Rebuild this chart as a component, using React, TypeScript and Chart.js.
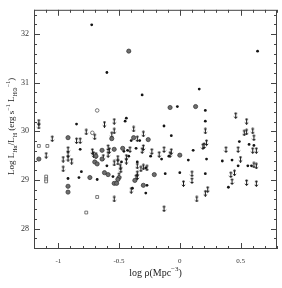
import React, { useEffect, useRef } from 'react';
import { Chart, registerables } from 'chart.js';

Chart.register(...registerables);

// Axis settings
const X_MIN = -1.2;
const X_MAX = 0.8;
const Y_MIN = 27.58;
const Y_MAX = 32.5;
const X_TICKS = [-1, -0.5, 0, 0.5];
const Y_TICKS = [28, 29, 30, 31, 32];
const X_MINOR = 0.1;
const Y_MINOR = 0.2;

// Small filled dots
const dots: [number, number][] = [
  [-0.725, 32.19], [-0.6, 31.21], [0.64, 31.65], [0.16, 30.87], [-0.31, 30.75],
  [-0.02, 30.51], [0.21, 30.43], [0.21, 30.21], [-0.13, 30.11], [-0.07, 29.91],
  [0.49, 29.79], [0.57, 29.73], [0.61, 29.71], [-0.85, 30.15], [-0.82, 29.63],
  [-0.81, 29.17], [-0.92, 29.03], [-0.83, 29.05], [-0.68, 29.01], [-0.44, 30.27],
  [-0.45, 30.21], [-0.4, 29.81], [-0.33, 29.81], [-0.46, 29.59], [-0.43, 29.61],
  [-0.36, 29.65], [-0.24, 29.49], [-0.42, 29.49], [-0.48, 29.37], [-0.35, 29.37],
  [-0.28, 29.25], [-0.27, 28.89], [-0.28, 28.73], [-0.6, 29.29], [-0.55, 29.07],
  [-0.39, 28.83], [-0.15, 29.43], [-0.09, 29.49], [0.07, 29.41], [0.11, 29.61],
  [0.22, 29.43], [-0.12, 29.13], [0.0, 29.15], [0.21, 29.13], [0.35, 29.39],
  [0.43, 29.41], [0.48, 29.29], [0.56, 29.29], [0.59, 29.29], [0.4, 28.85],
];

// Larger grey circles
const circles: [number, number][] = [
  [-0.42, 31.65], [-0.08, 30.49], [0.13, 30.51], [-0.26, 29.83], [-0.92, 29.87],
  [-1.16, 29.43], [-0.7, 29.37], [-0.74, 29.05], [-0.92, 28.87], [-0.92, 28.75],
  [-0.56, 29.85], [-0.38, 29.87], [-0.64, 29.61], [-0.54, 29.63], [-0.47, 29.65],
  [-0.69, 29.49], [-0.64, 29.43], [-0.68, 29.33], [-0.21, 29.11], [-0.62, 29.15],
  [-0.59, 29.11], [-0.5, 29.05], [-0.37, 28.99], [-0.51, 29.01], [-0.54, 28.93],
  [-0.52, 28.93], [-0.3, 28.89], [0.0, 29.51],
];

// Small open circles
const openCircles: [number, number][] = [
  [-0.68, 30.43], [-0.72, 29.97],
];

// Open squares
const squares: [number, number][] = [
  [-1.16, 29.7], [-1.09, 29.7], [-1.1, 29.07], [-1.1, 29.01], [-1.1, 28.97],
  [-0.77, 28.33], [-0.68, 28.65],
];

// Upper limits (arrows)
const limits: [number, number][] = [
  [0.46, 30.33], [0.55, 30.21], [0.21, 30.01], [0.53, 29.97], [0.55, 29.99],
  [0.6, 30.01], [-0.3, 29.95], [0.61, 29.87], [0.22, 29.77], [-1.16, 30.19],
  [-1.16, 30.11], [-1.05, 29.85], [-0.85, 29.81], [-0.82, 29.81], [-0.77, 29.99],
  [-0.7, 29.89], [-0.92, 29.63], [-0.92, 29.53], [-1.1, 29.51], [-0.72, 29.59],
  [-0.71, 29.53], [-0.69, 29.51], [-0.92, 29.45], [-0.96, 29.43], [-0.89, 29.39],
  [-0.96, 29.23], [-0.62, 30.15], [-0.54, 30.21], [-0.54, 30.01], [-0.56, 29.93],
  [-0.38, 30.05], [-0.35, 29.85], [-0.59, 29.67], [-0.58, 29.61], [-0.41, 29.63],
  [-0.3, 29.67], [-0.31, 29.61], [-0.23, 29.59], [-0.63, 29.47], [-0.59, 29.53],
  [-0.51, 29.45], [-0.51, 29.37], [-0.44, 29.47], [-0.44, 29.39], [-0.54, 29.35],
  [-0.49, 29.27], [-0.485, 29.21], [-0.35, 29.29], [-0.3, 29.27], [-0.27, 29.25],
  [-0.35, 29.13], [-0.35, 29.07], [-0.5, 29.09], [-0.36, 29.05], [-0.4, 28.79],
  [-0.54, 28.61], [-0.13, 29.63], [-0.17, 29.53], [-0.07, 29.59], [-0.08, 29.53],
  [0.19, 29.69], [0.2, 29.71], [0.1, 29.13], [0.1, 28.99], [0.03, 28.93],
  [0.23, 28.81], [0.21, 28.73], [0.14, 28.61], [-0.13, 28.41], [-0.32, 29.23],
  [0.38, 29.63], [0.48, 29.63], [0.6, 29.61], [0.63, 29.61], [0.5, 29.43],
  [0.61, 29.31], [0.63, 29.29], [0.45, 29.15], [0.42, 29.11], [0.43, 28.97],
  [0.55, 28.95], [0.63, 28.93],
];

type Seg = [string, 'n' | 'sub' | 'sup'];
const X_TITLE: Seg[] = [['log ', 'n'], ['ρ', 'n'], ['(Mpc', 'n'], ['−3', 'sup'], [')', 'n']];
const Y_TITLE: Seg[] = [
  ['Log L', 'n'], ['Hα', 'sub'], ['/L', 'n'], ['H', 'sub'], [' (erg s', 'n'], ['−1', 'sup'],
  [' L', 'n'], ['H⊙', 'sub'], ['−1', 'sup'], [')', 'n'],
];

const FAMILY = '"Liberation Serif", "DejaVu Serif", serif';

function drawSegs(ctx: CanvasRenderingContext2D, segs: Seg[], size: number) {
  const small = Math.round(size * 0.7);
  const fontFor = (k: string) => `${k === 'n' ? size : small}px ${FAMILY}`;
  let total = 0;
  const widths: number[] = [];
  segs.forEach(([t, k]) => {
    ctx.font = fontFor(k);
    const w = ctx.measureText(t).width;
    widths.push(w);
    total += w;
  });
  let x = -total / 2;
  ctx.textBaseline = 'alphabetic';
  ctx.textAlign = 'left';
  segs.forEach(([t, k], i) => {
    ctx.font = fontFor(k);
    const dy = k === 'sub' ? size * 0.3 : k === 'sup' ? -size * 0.42 : 0;
    ctx.fillText(t, x, size * 0.35 + dy);
    x += widths[i];
  });
}

function makeArrow(): HTMLCanvasElement {
  const c = document.createElement('canvas');
  c.width = 5;
  c.height = 7;
  const g = c.getContext('2d')!;
  g.fillStyle = '#1c1c1c';
  g.strokeStyle = '#1c1c1c';
  g.lineWidth = 1;
  g.beginPath();
  g.arc(2.5, 1.6, 1.2, 0, Math.PI * 2);
  g.fill();
  g.beginPath();
  g.moveTo(2.5, 1.6);
  g.lineTo(2.5, 6.6);
  g.stroke();
  g.beginPath();
  g.moveTo(0.8, 4.9);
  g.lineTo(2.5, 6.5);
  g.lineTo(4.2, 4.9);
  g.stroke();
  return c;
}

const framePlugin = {
  id: 'frameTicks',
  afterDraw(chart: any) {
    const { ctx, chartArea } = chart;
    const { left, right, top, bottom } = chartArea;
    const xs = chart.scales.x;
    const ys = chart.scales.y;
    ctx.save();
    ctx.strokeStyle = '#444';
    ctx.lineWidth = 1;
    ctx.strokeRect(left + 0.5, top + 0.5, right - left - 1, bottom - top - 1);
    ctx.beginPath();
    const nx0 = Math.ceil(X_MIN / X_MINOR - 1e-6);
    const nx1 = Math.floor(X_MAX / X_MINOR + 1e-6);
    for (let i = nx0; i <= nx1; i++) {
      const v = i * X_MINOR;
      const px = Math.round(xs.getPixelForValue(v)) + 0.5;
      const major = Math.abs(v * 2 - Math.round(v * 2)) < 1e-6;
      const len = major ? 6 : 3;
      ctx.moveTo(px, bottom);
      ctx.lineTo(px, bottom - len);
      ctx.moveTo(px, top);
      ctx.lineTo(px, top + len);
    }
    const ny0 = Math.ceil(Y_MIN / Y_MINOR - 1e-6);
    const ny1 = Math.floor(Y_MAX / Y_MINOR + 1e-6);
    for (let k = ny0; k <= ny1; k++) {
      const v = k * Y_MINOR;
      const py = Math.round(ys.getPixelForValue(v)) + 0.5;
      const major = Math.abs(v - Math.round(v)) < 1e-6;
      const len = major ? 6 : 3;
      ctx.moveTo(left, py);
      ctx.lineTo(left + len, py);
      ctx.moveTo(right, py);
      ctx.lineTo(right - len, py);
    }
    ctx.stroke();

    // Axis titles
    ctx.fillStyle = '#222';
    ctx.save();
    ctx.translate((left + right) / 2, 272);
    drawSegs(ctx, X_TITLE, 10);
    ctx.restore();
    ctx.save();
    ctx.translate(11, (top + bottom) / 2 - 3);
    ctx.rotate(-Math.PI / 2);
    drawSegs(ctx, Y_TITLE, 9);
    ctx.restore();
    ctx.restore();
  },
};

const toPts = (arr: [number, number][]) => arr.map(([x, y]) => ({ x, y }));

export default function App() {
  const ref = useRef<HTMLCanvasElement | null>(null);
  useEffect(() => {
    if (!ref.current) return;
    const arrow = makeArrow();
    const tickFont = { family: FAMILY, size: 8 };
    const chart = new Chart(ref.current, {
      type: 'scatter',
      data: {
        datasets: [
          {
            label: 'circles',
            data: toPts(circles),
            pointStyle: 'circle',
            pointRadius: 2.1,
            backgroundColor: '#6e6e6e',
            borderColor: '#2e2e2e',
            borderWidth: 0.7,
          },
          {
            label: 'open',
            data: toPts(openCircles),
            pointStyle: 'circle',
            pointRadius: 1.8,
            backgroundColor: '#ffffff',
            borderColor: '#555',
            borderWidth: 0.8,
          },
          {
            label: 'squares',
            data: toPts(squares),
            pointStyle: 'rect',
            pointRadius: 2,
            backgroundColor: '#ffffff',
            borderColor: '#555',
            borderWidth: 0.8,
          },
          {
            label: 'limits',
            data: toPts(limits),
            pointStyle: arrow as any,
            pointRadius: 3,
          },
          {
            label: 'dots',
            data: toPts(dots),
            pointStyle: 'circle',
            pointRadius: 1.4,
            backgroundColor: '#141414',
            borderWidth: 0,
          },
        ],
      },
      options: {
        animation: false,
        responsive: false,
        events: [],
        layout: { padding: { top: 3, right: 3, left: 0, bottom: 0 } },
        plugins: { legend: { display: false }, tooltip: { enabled: false } },
        scales: {
          x: {
            type: 'linear',
            min: X_MIN,
            max: X_MAX,
            afterBuildTicks: (s: any) => {
              s.ticks = X_TICKS.map((v) => ({ value: v }));
            },
            afterFit: (s: any) => {
              s.height = 39;
            },
            ticks: {
              font: { family: FAMILY, size: 7 },
              color: '#333',
              padding: 8,
              maxRotation: 0,
              autoSkip: false,
              callback: (v: any) => String(v),
            },
            grid: { display: false, drawTicks: false, tickLength: 0 },
            border: { display: false },
          },
          y: {
            type: 'linear',
            min: Y_MIN,
            max: Y_MAX,
            afterBuildTicks: (s: any) => {
              s.ticks = Y_TICKS.map((v) => ({ value: v }));
            },
            afterFit: (s: any) => {
              s.width = 34;
            },
            ticks: {
              font: tickFont,
              color: '#333',
              padding: 5,
              autoSkip: false,
              callback: (v: any) => String(v),
            },
            grid: { display: false, drawTicks: false, tickLength: 0 },
            border: { display: false },
          },
        },
      },
      plugins: [framePlugin],
    });
    return () => chart.destroy();
  }, []);
  return (
    <div style={{ position: 'absolute', left: 0, top: 0, width: 282, height: 288, background: '#fff' }}>
      <canvas ref={ref} width={282} height={288} style={{ display: 'block' }} />
    </div>
  );
}
